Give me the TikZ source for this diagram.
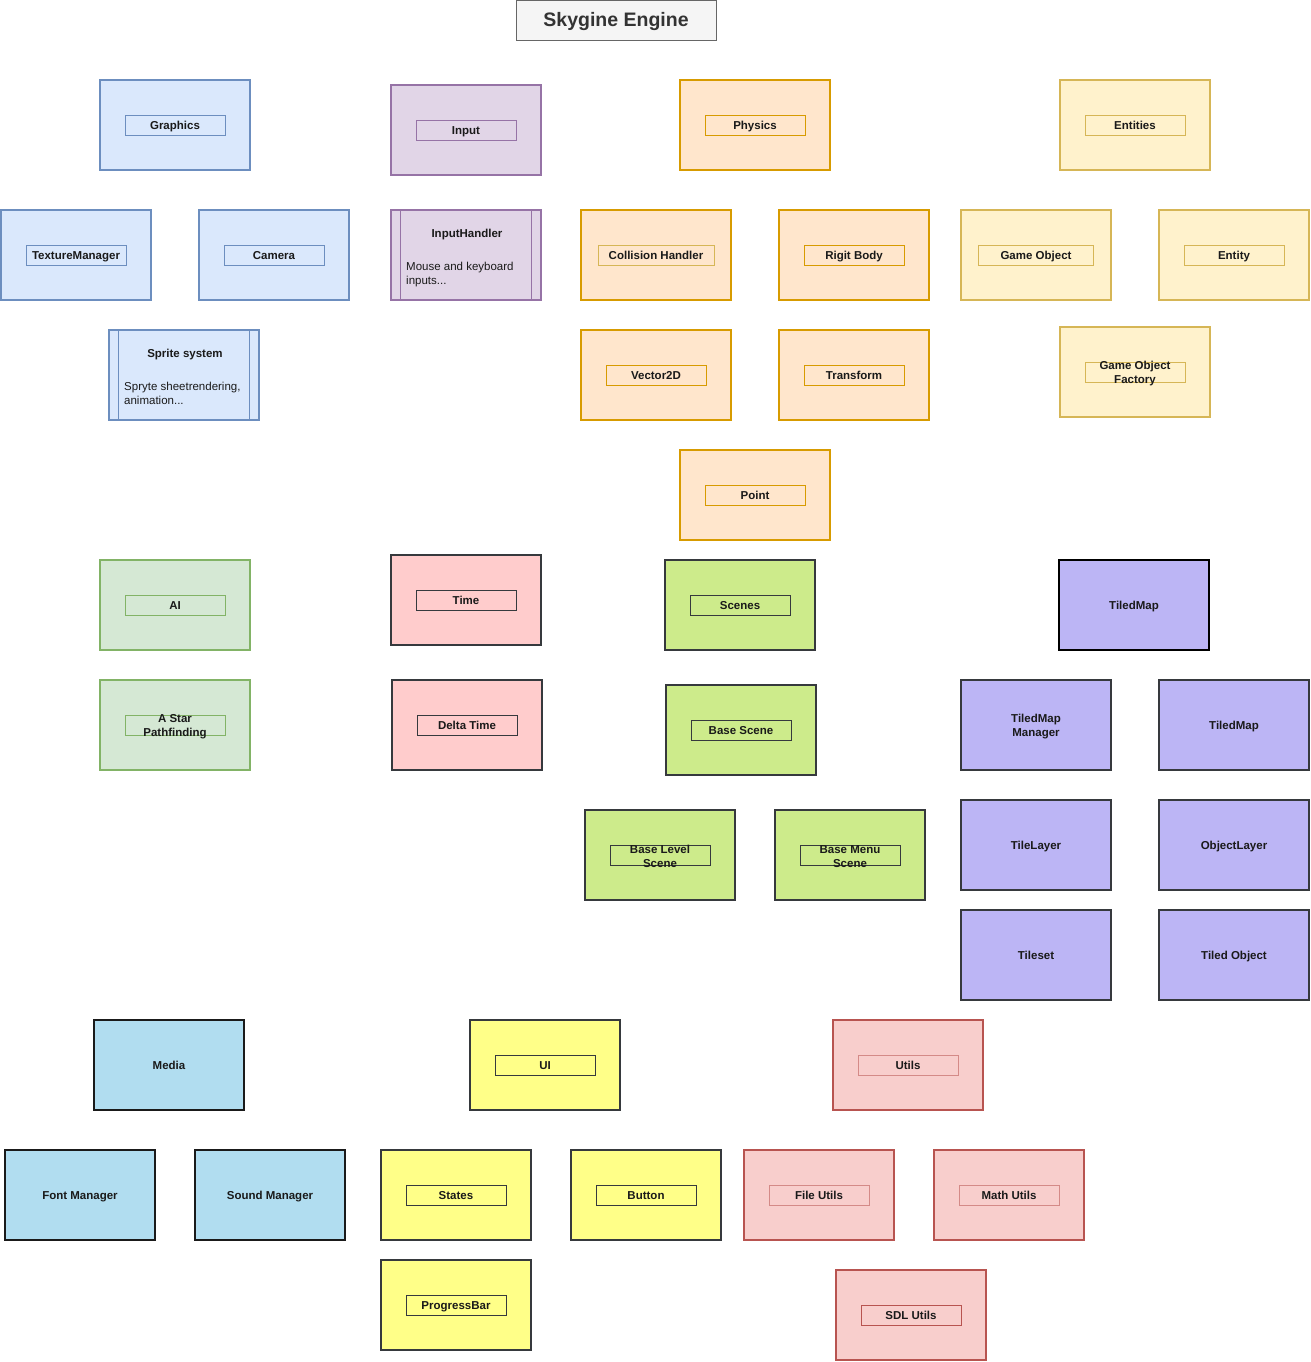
\documentclass[tikz,border=0pt]{standalone}
\usepackage{fontspec}
\setmainfont{Liberation Sans}
\definecolor{txt}{HTML}{1A1A1A}
\definecolor{bF}{HTML}{DAE8FC}\definecolor{bS}{HTML}{6C8EBF}
\definecolor{pF}{HTML}{E1D5E7}\definecolor{pS}{HTML}{9673A6}
\definecolor{oF}{HTML}{FFE6CC}\definecolor{oS}{HTML}{D79B00}
\definecolor{yF}{HTML}{FFF2CC}\definecolor{yS}{HTML}{D6B656}
\definecolor{gF}{HTML}{D5E8D4}\definecolor{gS}{HTML}{82B366}
\definecolor{kF}{HTML}{FFCCCC}\definecolor{dS}{HTML}{36393D}
\definecolor{lF}{HTML}{CDEB8B}
\definecolor{vF}{HTML}{BCB5F5}
\definecolor{mF}{HTML}{B1DDF0}\definecolor{mS}{HTML}{1A1A1A}
\definecolor{uF}{HTML}{FFFF88}
\definecolor{rF}{HTML}{F8CECC}\definecolor{rS}{HTML}{B85450}\definecolor{rL}{HTML}{D48A87}
\definecolor{tF}{HTML}{F5F5F5}\definecolor{tS}{HTML}{666666}\definecolor{tT}{HTML}{333333}
\newcommand\lblfont{\fontsize{11.5}{14}\selectfont\bfseries}
\newcommand\descfont{\fontsize{11.5}{14}\selectfont}
\newcommand\Comp[5]{%
  \node[outer,#4] (#1) at (#2,#3) {};
  \node[lbl,#4] (#1l) at (#2,#3) {#5};}
\newcommand\CompW[6]{%
  \node[outer,#4] (#1) at (#2,#3) {};
  \node[lbl,#4,minimum width=#6] (#1l) at (#2,#3) {#5};}
\newcommand\CompT[5]{%
  \node[outer,#4] (#1) at (#2,#3) {};
  \node[lbl,#4] (#1l) at (#2,#3) {};
  \node[txtonly,align=center,yshift=-1.5pt] (#1t) at (#2,#3) {#5};}
\newcommand\Plain[5]{%
  \node[outer,#4] (#1) at (#2,#3) {};
  \node[txtonly,text height=8.3pt,text depth=0pt] (#1t) at (#2,#3) {#5};}
\begin{document}
\begin{tikzpicture}[x=1pt,y=-1pt,
  outer/.style={draw, line width=1.6pt, minimum width=150pt, minimum height=90pt, inner sep=0pt},
  lbl/.style={draw, line width=0.8pt, minimum width=100pt, minimum height=20pt, inner sep=0pt, font=\lblfont, text=txt, text height=8.3pt, text depth=0pt},
  txtonly/.style={inner sep=0pt, font=\lblfont, text=txt},
  gblue/.style={fill=bF, draw=bS},
  gpurple/.style={fill=pF, draw=pS},
  gorange/.style={fill=oF, draw=oS},
  gyellow/.style={fill=yF, draw=yS},
  ggreen/.style={fill=gF, draw=gS},
  gpink/.style={fill=kF, draw=dS},
  glime/.style={fill=lF, draw=dS},
  gviolet/.style={fill=vF, draw=dS},
  gvioletk/.style={fill=vF, draw=black},
  gmedia/.style={fill=mF, draw=mS},
  gui/.style={fill=uF, draw=dS},
  gred/.style={fill=rF, draw=rS},
  gredl/.style={fill=rF, draw=rL},
]
\useasboundingbox (0,0) rectangle (1310,1362);
\fill[white] (0,0) rectangle (1310,1362);

% title
\node[draw=tS, fill=tF, line width=0.8pt, minimum width=200pt, minimum height=40pt, inner sep=0pt,
      font=\fontsize{19.5}{22}\selectfont\bfseries, text=tT, text height=14pt, text depth=0pt] (title) at (616,20) {Skygine Engine};

% Graphics
\Comp{graphics}{175}{125}{gblue}{Graphics}
\Comp{texman}{76}{255}{gblue}{TextureManager}
\Comp{camera}{274}{255}{gblue}{Camera}
\node[outer,gblue] (sprite) at (184,375) {};
\draw[bS, line width=0.8pt] ([xshift=10pt]sprite.north west) -- ([xshift=10pt]sprite.south west);
\draw[bS, line width=0.8pt] ([xshift=-10pt]sprite.north east) -- ([xshift=-10pt]sprite.south east);
\node[txtonly, anchor=base] (spritet) at (185,357) {Sprite system};
\node[inner sep=0pt, font=\descfont, text=txt, anchor=base west] (sprited1) at (124,390) {Spryte sheetrendering,};
\node[inner sep=0pt, font=\descfont, text=txt, anchor=base west] (sprited2) at (124,404) {animation...};

% Input
\Comp{input}{466}{130}{gpurple}{Input}
\node[outer,gpurple] (inh) at (466,255) {};
\draw[pS, line width=0.8pt] ([xshift=10pt]inh.north west) -- ([xshift=10pt]inh.south west);
\draw[pS, line width=0.8pt] ([xshift=-10pt]inh.north east) -- ([xshift=-10pt]inh.south east);
\node[txtonly, anchor=base] (inht) at (467,237) {InputHandler};
\node[inner sep=0pt, font=\descfont, text=txt, anchor=base west] (inhd1) at (406,270) {Mouse and keyboard};
\node[inner sep=0pt, font=\descfont, text=txt, anchor=base west] (inhd2) at (406,284) {inputs...};

% Physics
\Comp{physics}{755}{125}{gorange}{Physics}
\node[outer,gorange] (coll) at (656,255) {};
\node[lbl,fill=oF,draw=yS,minimum width=116pt] (colll) at (656,255) {Collision Handler};
\Comp{rigid}{854}{255}{gorange}{Rigit Body}
\Comp{vec}{656}{375}{gorange}{Vector2D}
\Comp{transf}{854}{375}{gorange}{Transform}
\Comp{point}{755}{495}{gorange}{Point}

% Entities
\Comp{entities}{1135}{125}{gyellow}{Entities}
\CompW{gobj}{1036}{255}{gyellow}{Game Object}{115pt}
\Comp{entity}{1234}{255}{gyellow}{Entity}
\CompT{gof}{1135}{372}{gyellow}{Game Object\\Factory}

% AI
\Comp{ai}{175}{605}{ggreen}{AI}
\CompT{astar}{175}{725}{ggreen}{A Star\\Pathfinding}

% Time
\Comp{time}{466}{600}{gpink}{Time}
\Comp{dtime}{467}{725}{gpink}{Delta Time}

% Scenes
\Comp{scenes}{740}{605}{glime}{Scenes}
\Comp{bscene}{741}{730}{glime}{Base Scene}
\CompT{blscene}{660}{855}{glime}{Base Level\\Scene}
\CompT{bmscene}{850}{855}{glime}{Base Menu\\Scene}

% TiledMap
\Plain{tmap}{1134}{605}{gvioletk}{TiledMap}
\node[outer,gviolet] (tmman) at (1036,725) {};
\node[txtonly,align=center,yshift=-1.5pt] (tmmant) at (1036,725) {TiledMap\\Manager};
\Plain{tmap2}{1234}{725}{gviolet}{TiledMap}
\Plain{tlayer}{1036}{845}{gviolet}{TileLayer}
\Plain{olayer}{1234}{845}{gviolet}{ObjectLayer}
\Plain{tset}{1036}{955}{gviolet}{Tileset}
\Plain{tobj}{1234}{955}{gviolet}{Tiled Object}

% Media
\Plain{media}{169}{1065}{gmedia}{Media}
\Plain{fontm}{80}{1195}{gmedia}{Font Manager}
\Plain{soundm}{270}{1195}{gmedia}{Sound Manager}

% UI
\Comp{ui}{545}{1065}{gui}{UI}
\Comp{states}{456}{1195}{gui}{States}
\Comp{button}{646}{1195}{gui}{Button}
\Comp{pbar}{456}{1305}{gui}{ProgressBar}

% Utils
\node[outer,gred] (utils) at (908,1065) {};
\node[lbl,gredl] (utilsl) at (908,1065) {Utils};
\node[outer,gred] (futils) at (819,1195) {};
\node[lbl,gredl] (futilsl) at (819,1195) {File Utils};
\node[outer,gred] (mutils) at (1009,1195) {};
\node[lbl,gredl] (mutilsl) at (1009,1195) {Math Utils};
\Comp{sdlutils}{911}{1315}{gred}{SDL Utils}
\end{tikzpicture}
\end{document}
